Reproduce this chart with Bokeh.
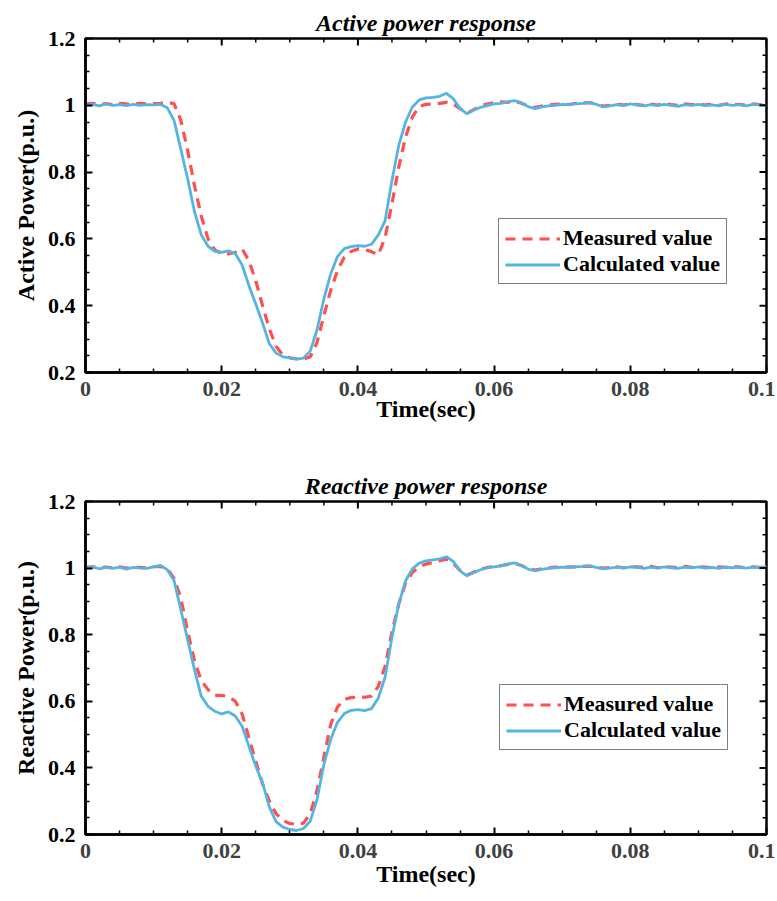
import math
from bokeh.plotting import figure
from bokeh.models import LinearAxis, FixedTicker, Legend, LegendItem, Range1d, ColumnDataSource
from bokeh.layouts import column
from bokeh.embed import file_html
from bokeh.resources import INLINE

# ---------------- data ----------------
time_s = [0.000, 0.001, 0.002, 0.003, 0.004, 0.005, 0.006, 0.007, 0.008, 0.009,
          0.010, 0.011, 0.012, 0.013, 0.014, 0.015, 0.016, 0.017, 0.018, 0.019,
          0.020, 0.021, 0.022, 0.023, 0.024, 0.025, 0.026, 0.027, 0.028, 0.029,
          0.030, 0.031, 0.032, 0.033, 0.034, 0.035, 0.036, 0.037, 0.038, 0.039,
          0.040, 0.041, 0.042, 0.043, 0.044, 0.045, 0.046, 0.047, 0.048, 0.049,
          0.050, 0.051, 0.052, 0.053, 0.054, 0.055, 0.056, 0.057, 0.058, 0.059,
          0.060, 0.061, 0.062, 0.063, 0.064, 0.065, 0.066, 0.067, 0.068, 0.069,
          0.070, 0.071, 0.072, 0.073, 0.074, 0.075, 0.076, 0.077, 0.078, 0.079,
          0.080, 0.081, 0.082, 0.083, 0.084, 0.085, 0.086, 0.087, 0.088, 0.089,
          0.090, 0.091, 0.092, 0.093, 0.094, 0.095, 0.096, 0.097, 0.098, 0.099,
          0.100]

active_measured = [1.004, 1.006, 1.003, 1.005, 1.002, 1.006, 1.004, 1.003, 1.006, 1.004,
                   1.005, 1.006, 1.009, 1.005, 0.955, 0.865, 0.760, 0.668, 0.600, 0.567,
                   0.556, 0.555, 0.560, 0.570, 0.535, 0.475, 0.400, 0.330, 0.278, 0.252,
                   0.244, 0.241, 0.240, 0.247, 0.290, 0.370, 0.446, 0.505, 0.545, 0.562,
                   0.570, 0.568, 0.562, 0.552, 0.605, 0.705, 0.815, 0.905, 0.965, 0.996,
                   1.003, 1.004, 1.006, 1.009, 1.004, 0.990, 0.976, 0.987, 0.998, 1.004,
                   1.008, 1.010, 1.009, 1.012, 1.006, 0.998, 0.994, 0.998, 1.001, 1.003,
                   1.004, 1.002, 1.006, 1.007, 1.008, 1.004, 0.998, 1.000, 1.003, 1.001,
                   1.004, 1.002, 1.000, 1.004, 1.001, 1.005, 1.002, 1.000, 1.004, 1.002,
                   1.004, 1.001, 1.003, 1.000, 1.004, 1.002, 1.003, 1.000, 1.004, 1.002,
                   1.003]

active_calculated = [1.000, 1.003, 0.998, 1.004, 1.000, 1.002, 0.999, 1.003, 1.000, 1.002,
                     1.001, 1.003, 0.993, 0.955, 0.868, 0.780, 0.682, 0.612, 0.578, 0.563,
                     0.560, 0.564, 0.556, 0.522, 0.460, 0.405, 0.348, 0.286, 0.258, 0.247,
                     0.244, 0.240, 0.243, 0.264, 0.328, 0.420, 0.495, 0.547, 0.571, 0.577,
                     0.580, 0.578, 0.584, 0.612, 0.655, 0.775, 0.880, 0.950, 0.995, 1.016,
                     1.022, 1.024, 1.027, 1.036, 1.020, 0.990, 0.975, 0.985, 0.994, 0.999,
                     1.004, 1.006, 1.010, 1.014, 1.008, 0.996, 0.990, 0.995, 0.998, 1.000,
                     1.003, 1.002, 1.004, 1.006, 1.009, 1.003, 0.995, 0.998, 1.002, 0.999,
                     1.004, 1.001, 0.998, 1.002, 0.999, 1.003, 1.000, 0.997, 1.002, 1.000,
                     1.003, 0.999, 1.001, 0.998, 1.003, 1.000, 1.002, 0.998, 1.003, 1.001,
                     1.000]

reactive_measured = [1.002, 1.004, 1.000, 1.003, 1.001, 1.004, 1.000, 1.003, 1.002, 1.001,
                     1.004, 1.005, 0.998, 0.970, 0.910, 0.810, 0.722, 0.662, 0.635, 0.618,
                     0.618, 0.614, 0.600, 0.562, 0.490, 0.420, 0.352, 0.300, 0.262, 0.242,
                     0.233, 0.231, 0.234, 0.262, 0.332, 0.432, 0.530, 0.583, 0.606, 0.611,
                     0.613, 0.612, 0.616, 0.645, 0.705, 0.808, 0.892, 0.955, 0.987, 1.004,
                     1.012, 1.017, 1.022, 1.027, 1.015, 0.993, 0.979, 0.988, 0.996, 1.002,
                     1.005, 1.007, 1.011, 1.014, 1.008, 0.999, 0.994, 0.998, 1.001, 1.003,
                     1.002, 1.004, 1.003, 1.005, 1.006, 1.003, 1.000, 1.002, 1.004, 1.001,
                     1.003, 1.004, 1.002, 1.005, 1.001, 1.004, 1.003, 1.001, 1.005, 1.002,
                     1.004, 1.003, 1.001, 1.004, 1.002, 1.005, 1.003, 1.001, 1.004, 1.002,
                     1.003]

reactive_calculated = [1.000, 1.004, 0.998, 1.002, 0.999, 1.003, 0.997, 1.002, 1.000, 0.999,
                       1.004, 1.008, 0.995, 0.963, 0.875, 0.785, 0.695, 0.615, 0.585, 0.570,
                       0.562, 0.568, 0.556, 0.525, 0.465, 0.405, 0.355, 0.282, 0.238, 0.222,
                       0.215, 0.212, 0.218, 0.240, 0.305, 0.410, 0.485, 0.537, 0.563, 0.573,
                       0.575, 0.572, 0.578, 0.610, 0.673, 0.792, 0.892, 0.962, 0.998, 1.015,
                       1.022, 1.025, 1.028, 1.034, 1.020, 0.992, 0.977, 0.986, 0.995, 1.001,
                       1.004, 1.007, 1.012, 1.016, 1.008, 0.997, 0.992, 0.996, 0.999, 1.001,
                       1.003, 1.002, 1.004, 1.005, 1.007, 1.002, 0.998, 1.000, 1.003, 1.000,
                       1.004, 1.002, 0.999, 1.003, 1.000, 1.004, 1.001, 0.999, 1.003, 1.001,
                       1.004, 1.000, 1.002, 0.999, 1.003, 1.001, 1.004, 1.000, 1.003, 1.002,
                       1.004]

x_range_bounds = [0.0, 0.1]
y_range_bounds = [0.2, 1.2]
x_major_ticks = [0.0, 0.02, 0.04, 0.06, 0.08, 0.1]
x_tick_labels = ["0", "0.02", "0.04", "0.06", "0.08", "0.1"]
x_minor_ticks = [0.005, 0.01, 0.015, 0.025, 0.03, 0.035, 0.045, 0.05, 0.055,
                 0.065, 0.07, 0.075, 0.085, 0.09, 0.095]
y_major_ticks = [0.2, 0.4, 0.6, 0.8, 1.0, 1.2]
y_tick_labels = ["0.2", "0.4", "0.6", "0.8", "1", "1.2"]
y_minor_ticks = [0.25, 0.3, 0.35, 0.45, 0.5, 0.55, 0.65, 0.7, 0.75, 0.85, 0.9, 0.95,
                 1.05, 1.1, 1.15]

titles = ["Active power response", "Reactive power response"]
y_labels = ["Active Power(p.u.)", "Reactive Power(p.u.)"]
x_label = "Time(sec)"
series_names = ["Measured value", "Calculated value"]

# ---------------- style ----------------
FONT = "Liberation Serif"
RED = "#FF4F4F"
BLUE = "#56B4E3"
INK = "#000000"
AXW = 2.5
MAJ_IN = 7
MIN_IN = 4


def style_axis(ax):
    ax.axis_line_width = AXW
    ax.axis_line_color = INK
    ax.major_tick_in = MAJ_IN
    ax.major_tick_out = 0
    ax.minor_tick_in = MIN_IN
    ax.minor_tick_out = 0
    ax.major_tick_line_width = 2
    ax.minor_tick_line_width = 1.5
    ax.major_tick_line_color = INK
    ax.minor_tick_line_color = INK


def mirror_ticks(p):
    # inward ticks on the top and right frame edges
    x0, x1 = x_range_bounds
    y0, y1 = y_range_bounds
    p.ray(x=x_major_ticks, y=[y1] * len(x_major_ticks), length=MAJ_IN, length_units="screen",
          angle=-math.pi / 2, line_color=INK, line_width=2)
    p.ray(x=x_minor_ticks, y=[y1] * len(x_minor_ticks), length=MIN_IN, length_units="screen",
          angle=-math.pi / 2, line_color=INK, line_width=1.5)
    p.ray(x=[x1] * len(y_major_ticks), y=y_major_ticks, length=MAJ_IN, length_units="screen",
          angle=math.pi, line_color=INK, line_width=2)
    p.ray(x=[x1] * len(y_minor_ticks), y=y_minor_ticks, length=MIN_IN, length_units="screen",
          angle=math.pi, line_color=INK, line_width=1.5)


def make_fig(idx, measured, calculated, height, top, bottom, legend_off,
             xtick_standoff, xlabel_standoff, title_standoff):
    p = figure(width=775, height=height, output_backend="svg", toolbar_location=None,
               x_range=Range1d(*x_range_bounds), y_range=Range1d(*y_range_bounds),
               min_border_left=85, min_border_right=9, min_border_top=top,
               min_border_bottom=bottom, x_axis_type=None, y_axis_type=None)
    p.background_fill_color = "#ffffff"
    p.border_fill_color = "#ffffff"
    p.outline_line_color = INK
    p.outline_line_width = AXW
    p.outline_line_alpha = 1.0
    p.xgrid.visible = False
    p.ygrid.visible = False

    p.title.text = titles[idx]
    p.title.text_font = FONT
    p.title.text_font_style = "bold italic"
    p.title.text_font_size = "24px"
    p.title.text_color = INK
    p.title.align = "center"
    p.title.standoff = title_standoff

    xt = FixedTicker(ticks=x_major_ticks, minor_ticks=x_minor_ticks)
    yt = FixedTicker(ticks=y_major_ticks, minor_ticks=y_minor_ticks)

    xb = LinearAxis(ticker=xt, axis_label=x_label)
    style_axis(xb)
    xb.major_label_overrides = dict(zip(x_major_ticks, x_tick_labels))
    xb.major_label_text_font = FONT
    xb.major_label_text_font_style = "bold"
    xb.major_label_text_font_size = "22px"
    xb.major_label_text_color = "#404040"
    xb.major_label_standoff = xtick_standoff
    xb.axis_label_text_font = FONT
    xb.axis_label_text_font_style = "bold"
    xb.axis_label_text_font_size = "24px"
    xb.axis_label_text_color = INK
    xb.axis_label_standoff = xlabel_standoff
    p.add_layout(xb, "below")

    yl = LinearAxis(ticker=yt, axis_label=y_labels[idx])
    style_axis(yl)
    yl.major_label_overrides = dict(zip(y_major_ticks, y_tick_labels))
    yl.major_label_text_font = FONT
    yl.major_label_text_font_style = "bold"
    yl.major_label_text_font_size = "22px"
    yl.major_label_text_color = INK
    yl.major_label_standoff = 10
    yl.axis_label_text_font = FONT
    yl.axis_label_text_font_style = "bold"
    yl.axis_label_text_font_size = "24px"
    yl.axis_label_text_color = INK
    yl.axis_label_standoff = 6
    p.add_layout(yl, "left")

    src = ColumnDataSource(dict(t=time_s, m=measured, c=calculated))
    r_m = p.line("t", "m", source=src, line_color=RED, line_width=3.2, line_dash="10 7")
    r_c = p.line("t", "c", source=src, line_color=BLUE, line_width=2.8)

    mirror_ticks(p)

    legend = Legend(items=[LegendItem(label=series_names[0], renderers=[r_m]),
                           LegendItem(label=series_names[1], renderers=[r_c])],
                    location=legend_off)
    legend.label_text_font = FONT
    legend.label_text_font_style = "bold"
    legend.label_text_font_size = "22px"
    legend.label_text_color = INK
    legend.border_line_color = INK
    legend.border_line_width = 1.5
    legend.background_fill_color = "#ffffff"
    legend.background_fill_alpha = 1.0
    legend.padding = 6
    legend.margin = 0
    legend.spacing = 0
    legend.glyph_width = 55
    legend.glyph_height = 23
    legend.label_height = 23
    legend.label_standoff = 3
    p.add_layout(legend, "center")
    return p


p1 = make_fig(0, active_measured, active_calculated, 440, 38, 68, (413, 88), 9, -3, 5)
p2 = make_fig(1, reactive_measured, reactive_calculated, 460, 61, 66, (414, 84), 9, 0, 5)

layout = column(p1, p2, spacing=0)
open("out.html", "w").write(file_html(layout, INLINE))
